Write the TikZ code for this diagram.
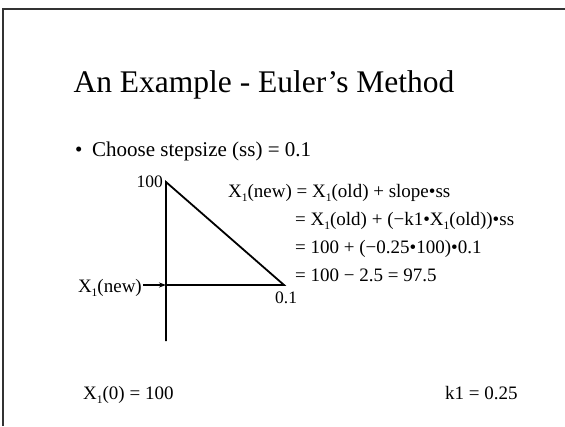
\documentclass[tikz,border=0pt]{standalone}
\usepackage{fontspec}
\setmainfont{Liberation Serif}
\usetikzlibrary{arrows.meta}
\newcommand\subone{\raisebox{-0.25em}{\fontsize{11.5}{11.5}\selectfont 1}}
\begin{document}
\begin{tikzpicture}[x=1pt,y=-1pt,
  txt/.style={inner sep=0pt, anchor=base west, font=\fontsize{19}{21}\selectfont},
  txte/.style={inner sep=0pt, anchor=base east, font=\fontsize{19}{21}\selectfont},
  ln/.style={line width=1.8pt},
  frame/.style={line width=1.5pt, draw=black!80}]
\useasboundingbox (0,0) rectangle (565,426);
\draw[frame] (3,426) -- (3,9) -- (565,9);
\node[anchor=base, inner sep=0pt, font=\fontsize{31.5}{34}\selectfont] (title) at (264,92) {An Example - Euler’s Method};
\node[txt, font=\fontsize{21}{24}\selectfont] (dot) at (75,156) {•};
\node[txt, font=\fontsize{21}{24}\selectfont] (choose) at (92,156) {Choose stepsize (ss) = 0.1};
% triangle
\coordinate (top) at (166,182);
\coordinate (corner) at (166,285);
\coordinate (right) at (284,285);
\coordinate (bot) at (166,341);
\draw[ln] (bot) -- (top) -- (right) -- (corner);
\node[txte, font=\fontsize{17.5}{20}\selectfont] (l100) at (163,187) {100};
\node[txt, font=\fontsize{17.5}{20}\selectfont] (l01) at (275,303) {0.1};
\node[txte] (xnew) at (142,292) {X\subone(new)};
\draw[line width=1.1pt, -{Stealth[length=7pt,width=5pt]}] ([xshift=1pt]xnew.east |- corner) -- (corner);
% equations
\node[txt] (eq1) at (228,197) {X\subone(new) = X\subone(old) + slope•ss};
\node[txt] (eq2) at (295,225) {= X\subone(old) + (−k1•X\subone(old))•ss};
\node[txt] (eq3) at (295,253) {= 100 + (−0.25•100)•0.1};
\node[txt] (eq4) at (295,281) {= 100 − 2.5 = 97.5};
% bottom
\node[txt] (x0) at (83,399) {X\subone(0) = 100};
\node[txt] (k1) at (445,399) {k1 = 0.25};
\end{tikzpicture}
\end{document}
